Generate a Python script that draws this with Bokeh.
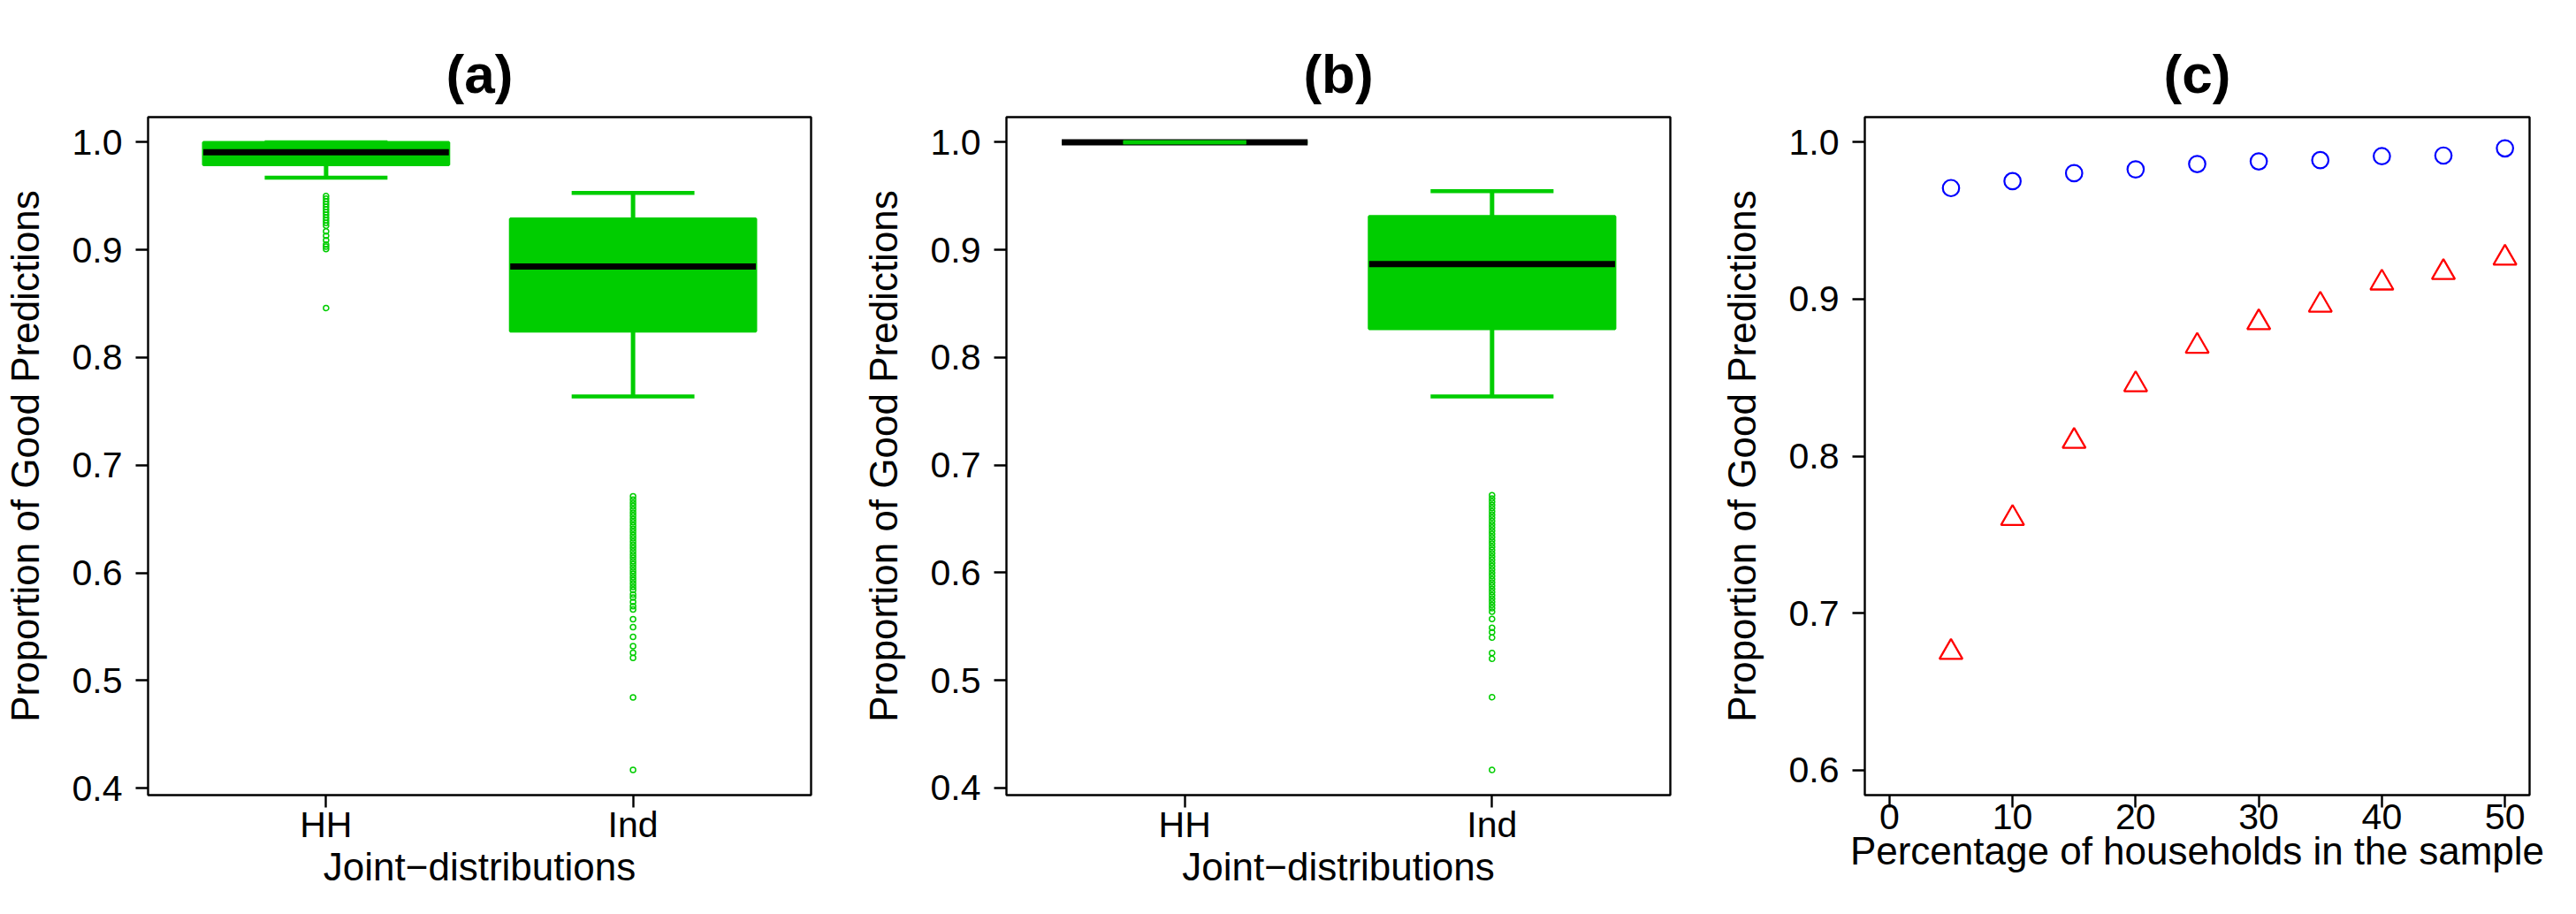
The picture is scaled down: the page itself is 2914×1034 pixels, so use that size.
from bokeh.plotting import figure
from bokeh.layouts import row
from bokeh.models import Range1d, FixedTicker, PrintfTickFormatter
from bokeh.embed import file_html
from bokeh.resources import INLINE

# ---------------- data ----------------
categories = ["HH", "Ind"]

# panel (a) box statistics: lower whisker, Q1, median, Q3, upper whisker
a_low = [0.967, 0.7638]
a_q1 = [0.979, 0.8245]
a_med = [0.9907, 0.8846]
a_q3 = [1.000, 0.9290]
a_high = [1.000, 0.9529]
a_out_hh = [0.950, 0.9475, 0.945, 0.9425, 0.940, 0.9375, 0.935, 0.9325, 0.930,
            0.9275, 0.925, 0.9225, 0.9172, 0.9131, 0.9090, 0.9049, 0.9030,
            0.9008, 0.846]
a_out_ind = [0.671, 0.668, 0.665, 0.662, 0.659, 0.656, 0.653, 0.650, 0.647,
             0.644, 0.641, 0.638, 0.635, 0.632, 0.629, 0.626, 0.623, 0.620,
             0.617, 0.614, 0.611, 0.608, 0.605, 0.602, 0.599, 0.596, 0.593,
             0.590, 0.587, 0.584, 0.580, 0.577, 0.573, 0.569, 0.566, 0.557,
             0.5496, 0.5406, 0.532, 0.5258, 0.521, 0.4843, 0.4169]

# panel (b)
b_low = [1.000, 0.7638]
b_q1 = [1.000, 0.8267]
b_med = [1.000, 0.8868]
b_q3 = [1.000, 0.9312]
b_high = [1.000, 0.9545]
b_out_hh = []
b_out_ind = [0.672, 0.669, 0.666, 0.663, 0.660, 0.657, 0.654, 0.651, 0.648,
             0.645, 0.642, 0.639, 0.636, 0.633, 0.630, 0.627, 0.624, 0.621,
             0.618, 0.615, 0.612, 0.609, 0.606, 0.603, 0.600, 0.597, 0.594,
             0.591, 0.588, 0.585, 0.582, 0.579, 0.576, 0.573, 0.570, 0.567,
             0.5638, 0.557, 0.5488, 0.5447, 0.5397, 0.5255, 0.520, 0.4844,
             0.4167]

# panel (c)
pct = [5, 10, 15, 20, 25, 30, 35, 40, 45, 50]
hh_good = [0.9708, 0.9752, 0.9803, 0.9827, 0.9861, 0.9878, 0.9886, 0.9911,
           0.9915, 0.9961]
ind_good = [0.675, 0.7604, 0.8095, 0.8456, 0.8701, 0.8851, 0.8963, 0.9104,
            0.9171, 0.9262]

y_ticks_ab = [0.4, 0.5, 0.6, 0.7, 0.8, 0.9, 1.0]
y_ticks_c = [0.6, 0.7, 0.8, 0.9, 1.0]
x_ticks_c = [0, 10, 20, 30, 40, 50]

# ---------------- style ----------------
FONT = "Liberation Sans"
GREEN = "#00CD00"
H = 1034
TOP = 132
FRAME_H = 767
BOTTOM = H - TOP - FRAME_H
FRAME_W = 756


def pad(lo, hi):
    d = (hi - lo) * 0.04
    return lo - d, hi + d


def base_fig(title, xr, yr, left, width):
    p = figure(width=width, height=H, x_range=Range1d(*xr), y_range=Range1d(*yr),
               output_backend="svg", toolbar_location=None, title=title,
               min_border_left=left, min_border_right=width - left - FRAME_W,
               min_border_top=TOP, min_border_bottom=BOTTOM)
    p.xgrid.visible = False
    p.ygrid.visible = False
    p.outline_line_color = "black"
    p.outline_line_width = 2.4
    p.outline_line_alpha = 1.0
    p.background_fill_color = "white"
    p.border_fill_color = "white"
    p.title.text_font = FONT
    p.title.text_font_size = "62px"
    p.title.text_font_style = "bold"
    p.title.text_color = "black"
    p.title.align = "center"
    p.title.standoff = 29
    for ax in (p.xaxis[0], p.yaxis[0]):
        ax.axis_line_color = None
        ax.major_tick_line_color = "black"
        ax.major_tick_line_width = 2.4
        ax.major_tick_out = 14
        ax.major_tick_in = 0
        ax.minor_tick_line_color = None
        ax.major_label_text_font = FONT
        ax.major_label_text_font_size = "41px"
        ax.major_label_text_color = "black"
        ax.axis_label_text_font = FONT
        ax.axis_label_text_font_size = "44px"
        ax.axis_label_text_font_style = "normal"
        ax.axis_label_text_color = "black"
    p.yaxis[0].major_label_standoff = 15
    p.yaxis[0].axis_label_standoff = 26
    p.xaxis[0].major_label_standoff = -4
    p.xaxis[0].axis_label_standoff = -3
    p.yaxis[0].axis_label = "Proportion of Good Predictions"
    return p


def box_panel(title, left, width, low, q1, med, q3, high, out_hh, out_ind):
    allv = low + q1 + med + q3 + high + out_hh + out_ind
    yr = pad(min(allv), max(allv))
    xr = pad(0.5, len(categories) + 0.5)
    p = base_fig(title, xr, yr, left, width)
    pos = [i + 1 for i in range(len(categories))]
    # boxes
    p.quad(left=[x - 0.4 for x in pos], right=[x + 0.4 for x in pos],
           bottom=q1, top=q3, fill_color=GREEN, line_color=GREEN,
           line_width=3)
    # medians
    p.segment(x0=[x - 0.4 for x in pos], x1=[x + 0.4 for x in pos],
              y0=med, y1=med, line_color="black", line_width=7)
    # whiskers
    p.segment(x0=pos, x1=pos, y0=low, y1=q1, line_color=GREEN, line_width=5)
    p.segment(x0=pos, x1=pos, y0=q3, y1=high, line_color=GREEN, line_width=5)
    # staples
    p.segment(x0=[x - 0.2 for x in pos], x1=[x + 0.2 for x in pos],
              y0=low, y1=low, line_color=GREEN, line_width=4.5)
    p.segment(x0=[x - 0.2 for x in pos], x1=[x + 0.2 for x in pos],
              y0=high, y1=high, line_color=GREEN, line_width=4.5)
    # outliers
    ox = [pos[0]] * len(out_hh) + [pos[1]] * len(out_ind)
    oy = out_hh + out_ind
    p.scatter(ox, oy, marker="circle", size=6, fill_color=None,
              line_color=GREEN, line_width=1.5)
    p.xaxis[0].ticker = FixedTicker(ticks=pos)
    p.xaxis[0].major_label_overrides = {x: c for x, c in zip(pos, categories)}
    p.xaxis[0].axis_label = "Joint\u2212distributions"
    p.yaxis[0].ticker = FixedTicker(ticks=y_ticks_ab)
    p.yaxis[0].formatter = PrintfTickFormatter(format="%.1f")
    return p


pa = box_panel("(a)", 161, 971, a_low, a_q1, a_med, a_q3, a_high, a_out_hh, a_out_ind)
pb = box_panel("(b)", 162, 971, b_low, b_q1, b_med, b_q3, b_high, b_out_hh, b_out_ind)

pc = base_fig("(c)", pad(0, 50), pad(0.6, 1.0), 163, 972)
pc.scatter(pct, hh_good, marker="circle", size=18.5, fill_color=None,
           line_color="#0000FF", line_width=2.2)
pc.scatter(pct, ind_good, marker="triangle", size=26, fill_color=None,
           line_color="#FF0000", line_width=2.3)
pc.xaxis[0].ticker = FixedTicker(ticks=x_ticks_c)
pc.xaxis[0].axis_label = "Percentage of households in the sample"
pc.yaxis[0].ticker = FixedTicker(ticks=y_ticks_c)
pc.yaxis[0].formatter = PrintfTickFormatter(format="%.1f")

layout = row(pa, pb, pc, spacing=0)
open("out.html", "w").write(file_html(layout, INLINE))
